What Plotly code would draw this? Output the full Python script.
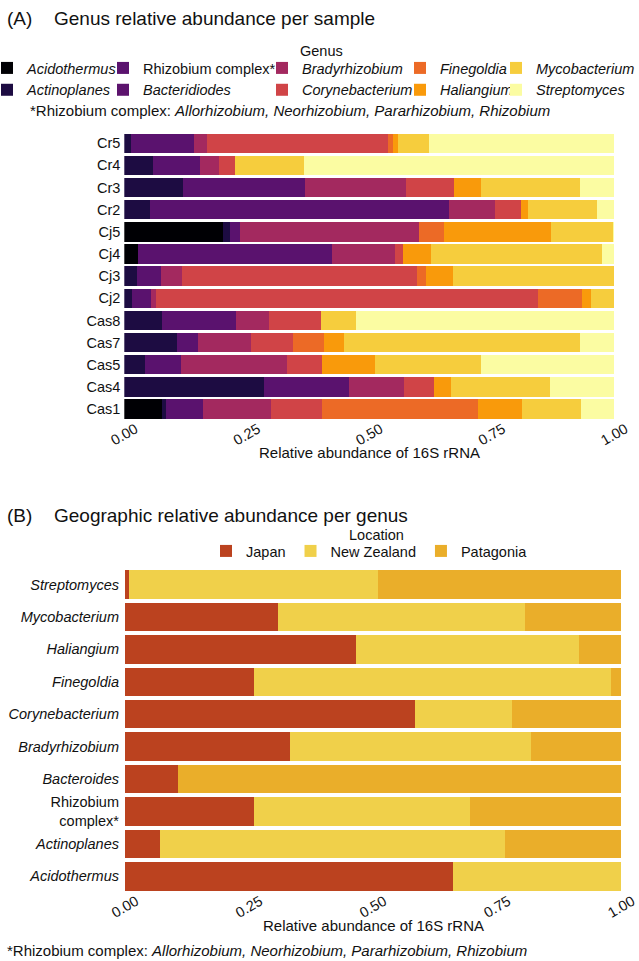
import plotly.graph_objects as go

# ---------------- Panel A data ----------------
samples = ["Cas1", "Cas4", "Cas5", "Cas7", "Cas8", "Cj2", "Cj3", "Cj4", "Cj5", "Cr2", "Cr3", "Cr4", "Cr5"]

acidothermus = [0.077, 0, 0, 0, 0, 0, 0, 0.027, 0.202, 0, 0, 0, 0]
actinoplanes = [0.008, 0.285, 0.043, 0.108, 0.077, 0.016, 0.026, 0, 0.014, 0.052, 0.119, 0.059, 0.013]
rhizobium_complex = [0.075, 0.174, 0.073, 0.042, 0.150, 0.039, 0.049, 0.396, 0.021, 0.611, 0.250, 0.096, 0.130]
bacteridiodes = [0, 0, 0, 0, 0, 0, 0, 0, 0, 0, 0, 0, 0]
bradyrhizobium = [0.139, 0.111, 0.217, 0.109, 0.068, 0.009, 0.042, 0.130, 0.365, 0.093, 0.206, 0.039, 0.025]
corynebacterium = [0.105, 0.063, 0.070, 0.085, 0.106, 0.780, 0.480, 0.016, 0, 0.053, 0.098, 0.032, 0.370]
finegoldia = [0.318, 0, 0, 0.063, 0, 0.090, 0.019, 0, 0.051, 0, 0, 0, 0.011]
haliangium = [0.090, 0.033, 0.108, 0.041, 0, 0.018, 0.055, 0.057, 0.218, 0.014, 0.055, 0, 0.010]
mycobacterium = [0.121, 0.202, 0.217, 0.481, 0.072, 0.048, 0.329, 0.348, 0.127, 0.142, 0.201, 0.141, 0.063]
streptomyces = [0.067, 0.132, 0.272, 0.071, 0.527, 0, 0, 0.026, 0.002, 0.035, 0.071, 0.633, 0.378]

genus_names = ["<i>Acidothermus</i>", "<i>Actinoplanes</i>", "Rhizobium complex*", "<i>Bacteridiodes</i>",
               "<i>Bradyrhizobium</i>", "<i>Corynebacterium</i>", "<i>Finegoldia</i>", "<i>Haliangium</i>",
               "<i>Mycobacterium</i>", "<i>Streptomyces</i>"]
genus_values = [acidothermus, actinoplanes, rhizobium_complex, bacteridiodes, bradyrhizobium,
                corynebacterium, finegoldia, haliangium, mycobacterium, streptomyces]
genus_colors = ["#000004", "#1d0c42", "#5a126e", "#5c136d", "#a3295f",
                "#d04447", "#ec6a26", "#f99a0b", "#f6cd3d", "#fbfca2"]
genus_legends = ["legend", "legend", "legend2", "legend2", "legend3",
                 "legend3", "legend4", "legend4", "legend5", "legend5"]

# ---------------- Panel B data ----------------
genera_b = ["Acidothermus", "Actinoplanes", "Rhizobium complex", "Bacteroides", "Bradyrhizobium",
            "Corynebacterium", "Finegoldia", "Haliangium", "Mycobacterium", "Streptomyces"]
genera_b_labels = ["<i>Acidothermus</i>", "<i>Actinoplanes</i>", "Rhizobium<br>complex*", "<i>Bacteroides</i>",
                   "<i>Bradyrhizobium</i>", "<i>Corynebacterium</i>", "<i>Finegoldia</i>", "<i>Haliangium</i>",
                   "<i>Mycobacterium</i>", "<i>Streptomyces</i>"]
japan = [0.660, 0.070, 0.259, 0.106, 0.332, 0.584, 0.259, 0.466, 0.309, 0.009]
new_zealand = [0.340, 0.695, 0.436, 0, 0.486, 0.196, 0.721, 0.449, 0.497, 0.500]
patagonia = [0, 0.235, 0.305, 0.894, 0.182, 0.220, 0.020, 0.085, 0.194, 0.491]
loc_names = ["Japan", "New Zealand", "Patagonia"]
loc_values = [japan, new_zealand, patagonia]
loc_colors = ["#bb421f", "#f0d04a", "#eaae2a"]

tick_vals = [0, 0.25, 0.5, 0.75, 1.0]
tick_text = ["0.00", "0.25", "0.50", "0.75", "1.00"]

W, H = 639, 961
FONT = "Liberation Sans, Arial, sans-serif"
FS = 14.5


def px_x(p):
    return p / W


def px_y(p):
    return 1 - p / H


fig = go.Figure()

for name, vals, col, lg in zip(genus_names, genus_values, genus_colors, genus_legends):
    fig.add_trace(go.Bar(
        y=samples, x=vals, name=name, orientation="h",
        marker=dict(color=col, line=dict(width=0)),
        xaxis="x", yaxis="y", legend=lg,
    ))

for name, vals, col in zip(loc_names, loc_values, loc_colors):
    fig.add_trace(go.Bar(
        y=genera_b, x=vals, name=name, orientation="h",
        marker=dict(color=col, line=dict(width=0)),
        xaxis="x2", yaxis="y2", legend="legend6",
    ))

axis_common = dict(showgrid=False, zeroline=False, showline=False, ticks="", automargin=False)
xtick_common = dict(tickvals=tick_vals, ticktext=tick_text, tickangle=-30,
                    tickfont=dict(size=FS), ticklabelshift=11, ticklabelstandoff=-3)

fig.update_layout(
    template="none",
    width=W, height=H,
    margin=dict(l=0, r=0, t=0, b=0, pad=0, autoexpand=False),
    paper_bgcolor="white", plot_bgcolor="white",
    font=dict(family=FONT, size=FS, color="#111111"),
    barmode="stack",
    bargap=0.12,
    xaxis=dict(domain=[px_x(124.3), px_x(614.3)], anchor="y", range=[0, 1],
               **xtick_common, **axis_common),
    yaxis=dict(domain=[px_y(420.1), px_y(132.2)], anchor="x",
               categoryorder="array", categoryarray=samples,
               tickfont=dict(size=FS), ticklabelstandoff=3, **axis_common),
    xaxis2=dict(domain=[px_x(125), px_x(621.3)], anchor="y2", range=[0, 1],
                **xtick_common, **axis_common),
    yaxis2=dict(domain=[px_y(892.5), px_y(568.3)], anchor="x2",
                categoryorder="array", categoryarray=genera_b,
                tickvals=genera_b, ticktext=genera_b_labels,
                tickfont=dict(size=FS), ticklabelstandoff=5, **axis_common),
)

leg_common = dict(orientation="v", yanchor="top", xanchor="left", bgcolor="rgba(0,0,0,0)",
                  font=dict(size=FS), traceorder="normal", tracegroupgap=0)
legend_x = [0, 103, 262, 400, 496]
legend_indent = [-13, 0, 0, 0, 0]
for i, (lx, ind) in enumerate(zip(legend_x, legend_indent)):
    key = "legend" if i == 0 else f"legend{i + 1}"
    fig.update_layout({key: dict(x=px_x(lx), y=px_y(52), indentation=ind, **leg_common)})

fig.update_layout(legend6=dict(orientation="h", yanchor="top", xanchor="left",
                               x=px_x(206), y=px_y(535), bgcolor="rgba(0,0,0,0)",
                               font=dict(size=FS), traceorder="normal"))

annots = [
    dict(text="(A)", x=px_x(5), y=px_y(18), font=dict(size=19)),
    dict(text="Genus relative abundance per sample", x=px_x(52), y=px_y(18), font=dict(size=19)),
    dict(text="*Rhizobium complex: <i>Allorhizobium, Neorhizobium, Pararhizobium, Rhizobium</i>",
         x=px_x(28), y=px_y(110), font=dict(size=15)),
    dict(text="(B)", x=px_x(5), y=px_y(515), font=dict(size=19)),
    dict(text="Geographic relative abundance per genus", x=px_x(52), y=px_y(515), font=dict(size=19)),
    dict(text="*Rhizobium complex: <i>Allorhizobium, Neorhizobium, Pararhizobium, Rhizobium</i>",
         x=px_x(5), y=px_y(950), font=dict(size=15)),
]
for a in annots:
    fig.add_annotation(xref="paper", yref="paper", xanchor="left", yanchor="middle",
                       showarrow=False, **a)

centered = [
    dict(text="Genus", x=px_x(321), y=px_y(51), font=dict(size=FS)),
    dict(text="Location", x=px_x(376), y=px_y(535), font=dict(size=FS)),
    dict(text="Relative abundance of 16S rRNA", x=px_x(369.3), y=px_y(452), font=dict(size=15)),
    dict(text="Relative abundance of 16S rRNA", x=px_x(373), y=px_y(925), font=dict(size=15)),
]
for a in centered:
    fig.add_annotation(xref="paper", yref="paper", xanchor="center", yanchor="middle",
                       showarrow=False, **a)

fig.write_html("out.html", config={"displayModeBar": False},
               post_script="document.body.style.margin='0px';document.body.style.overflow='hidden';")
